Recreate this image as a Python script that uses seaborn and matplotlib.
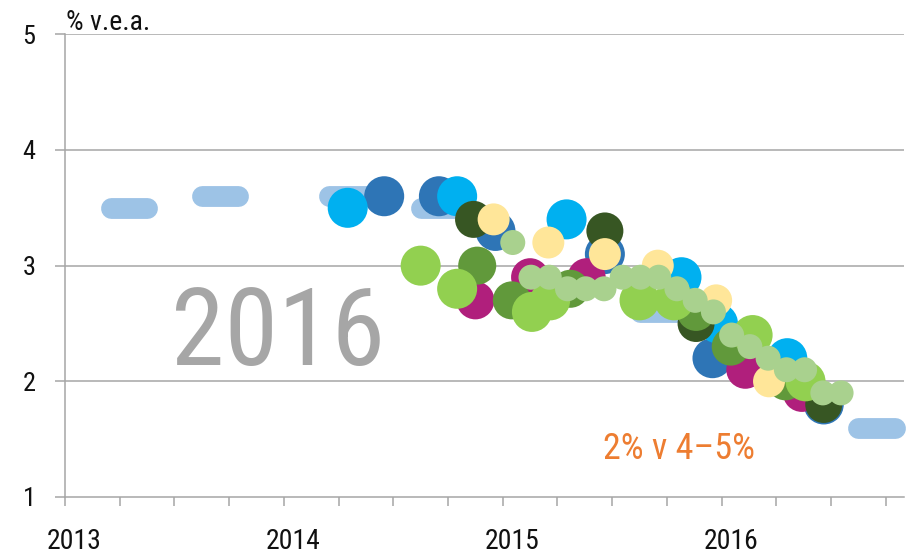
"""
Inflation forecasts 2016 - scatter of forecast vintages
"""

import pandas as pd
import numpy as np
import matplotlib
matplotlib.use('Agg')
import matplotlib.pyplot as plt
import seaborn as sns

# x = months since Jan 2013, y = % v.e.a.
dash_start = [2.5, 7.5, 14.5, 19.5, 31.5, 43.5]
dash_end = [4.5, 9.5, 16.5, 21.5, 33.5, 45.5]
dash_value = [3.5, 3.6, 3.6, 3.5, 2.6, 1.6]

darkblue_x = [17.5, 20.5, 23.6, 29.6, 35.5, 41.6]
darkblue_y = [3.6, 3.6, 3.3, 3.1, 2.2, 1.8]
cyan_x = [15.5, 21.5, 27.5, 33.8, 35.8, 39.6]
cyan_y = [3.5, 3.6, 3.4, 2.9, 2.5, 2.2]
magenta_x = [22.5, 25.5, 28.6, 37.3, 40.4]
magenta_y = [2.7, 2.9, 2.9, 2.1, 1.9]
darkgreen_x = [22.4, 29.6, 34.6, 41.6]
darkgreen_y = [3.4, 3.3, 2.5, 1.8]
midgreen_x = [22.6, 24.5, 27.7, 34.6, 36.5, 39.5]
midgreen_y = [3.0, 2.7, 2.8, 2.6, 2.3, 2.0]
brightgreen_x = [19.5, 21.5, 25.6, 26.6, 31.5, 33.4, 37.7, 40.6]
brightgreen_y = [3.0, 2.8, 2.6, 2.7, 2.7, 2.7, 2.4, 2.0]
yellow_x = [23.5, 26.5, 29.6, 32.5, 35.7, 38.6]
yellow_y = [3.4, 3.2, 3.1, 3.0, 2.7, 2.0]
lightgreen_x = [24.55, 25.55, 26.55, 27.55, 28.55, 29.55, 30.55, 31.55, 32.55, 33.55,
                34.55, 35.55, 36.55, 37.55, 38.55, 39.55, 40.55, 41.55, 42.55]
lightgreen_y = [3.2, 2.9, 2.9, 2.8, 2.8, 2.8, 2.9, 2.9, 2.9, 2.8,
                2.7, 2.6, 2.4, 2.3, 2.2, 2.1, 2.1, 1.9, 1.9]

year_labels = ['2013', '2014', '2015', '2016']
year_pos = [0.5, 12.5, 24.5, 36.5]
y_ticks = [1, 2, 3, 4, 5]

# draw order = stacking order
layers = [
    ('darkblue', darkblue_x, darkblue_y),
    ('cyan', cyan_x, cyan_y),
    ('magenta', magenta_x, magenta_y),
    ('darkgreen', darkgreen_x, darkgreen_y),
    ('midgreen', midgreen_x, midgreen_y),
    ('brightgreen', brightgreen_x, brightgreen_y),
    ('yellow', yellow_x, yellow_y),
    ('lightgreen', lightgreen_x, lightgreen_y),
]
palette = {
    'darkblue': '#2E75B6', 'cyan': '#00B0F0', 'magenta': '#B01F7C',
    'darkgreen': '#375623', 'midgreen': '#61993B', 'brightgreen': '#92D050',
    'yellow': '#FFE699', 'lightgreen': '#A9D18E',
}
sizes = {
    'darkblue': 830, 'cyan': 830, 'magenta': 750, 'darkgreen': 710,
    'midgreen': 750, 'brightgreen': 830, 'yellow': 530, 'lightgreen': 324,
}

df = pd.concat([pd.DataFrame({'month': xs, 'value': ys, 'series': name})
                for name, xs, ys in layers], ignore_index=True)

sns.set_theme(style='white')
plt.rcParams['font.family'] = ['Roboto Condensed', 'Liberation Sans Narrow', 'DejaVu Sans']

grid_col = '#A6A6A6'
fig = plt.figure(figsize=(9.08, 5.54), dpi=100)
ax = fig.add_axes([65 / 908, 57 / 554, 839 / 908, 462.7 / 554])

ax.hlines(dash_value, dash_start, dash_end, colors='#9DC3E6', linewidth=15,
          capstyle='round', zorder=2, clip_on=False)

sns.scatterplot(data=df, x='month', y='value', hue='series', palette=palette,
                size='series', sizes=sizes, linewidth=0, legend=False,
                ax=ax, zorder=3, clip_on=False)

ax.set_xlim(0, 46)
ax.set_ylim(1, 5)
ax.set_xlabel('')
ax.set_ylabel('')

ax.set_yticks(y_ticks)
ax.set_yticklabels([str(t) for t in y_ticks], fontsize=19, color='#111111')
ax.set_xticks(np.arange(0, 46, 3))
ax.set_xticklabels([])
ax.set_xticks(year_pos, minor=True)
ax.set_xticklabels(year_labels, minor=True, fontsize=20, color='#111111')

ax.tick_params(axis='y', which='major', length=7.2, width=1.1, color=grid_col,
               pad=14, left=True)
ax.tick_params(axis='x', which='major', length=6.8, width=1.1, color=grid_col,
               bottom=True)
ax.tick_params(axis='x', which='minor', length=0, pad=22)

ax.grid(False)
for v in y_ticks[1:]:
    ax.axhline(v, color=grid_col, linewidth=1.1, zorder=1)
for side in ['top', 'right']:
    ax.spines[side].set_visible(False)
for side in ['left', 'bottom']:
    ax.spines[side].set_color(grid_col)
    ax.spines[side].set_linewidth(1.1)

ax.text(11.7, 2.14, '2016', fontsize=78, color='#A6A6A6',
        ha='center', va='baseline', zorder=1.5)
ax.text(29.5, 1.33, '2% v 4\u20135%', fontsize=26, color='#ED7D31',
        ha='left', va='baseline', zorder=4)
fig.text(66 / 908, 1 - 30 / 554, '% v.e.a.', fontsize=20, color='#111111',
         ha='left', va='baseline')

fig.savefig('out.png', dpi=100)
plt.close(fig)
